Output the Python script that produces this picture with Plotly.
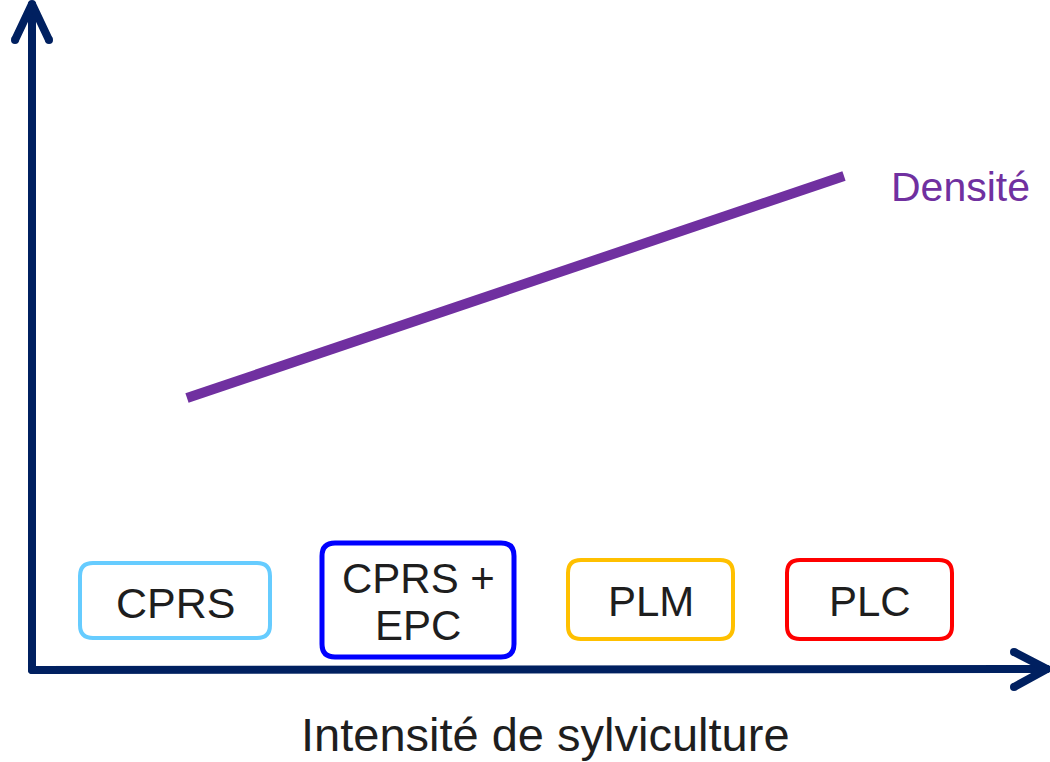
import plotly.graph_objects as go

# schematic coordinates: x = intensité (0..1050), y = valeur (0..762, vers le haut)
densite_x = [187, 844]
densite_y = [364, 586]

box_labels = ["CPRS", "CPRS +<br>EPC", "PLM", "PLC"]
box_colors = ["#66CCFF", "#0000FF", "#FFC000", "#FF0000"]
box_x0 = [80, 322, 568, 787]
box_x1 = [270, 514, 733, 952]
box_y0 = [124, 105, 123, 123]
box_y1 = [199, 219, 202, 202]
box_widths = [4, 5, 4, 4]

navy = "#002060"
purple = "#7030A0"
text_color = "#1e1e1e"
font = "Liberation Sans, Arial, sans-serif"


def rounded_rect(x0, y0, x1, y1, r=13):
    return (
        f"M {x0 + r},{y0} L {x1 - r},{y0} Q {x1},{y0} {x1},{y0 + r} "
        f"L {x1},{y1 - r} Q {x1},{y1} {x1 - r},{y1} "
        f"L {x0 + r},{y1} Q {x0},{y1} {x0},{y1 - r} "
        f"L {x0},{y0 + r} Q {x0},{y0} {x0 + r},{y0} Z"
    )


fig = go.Figure()

# axes with chevron arrow heads
axis_lines = [
    ([32, 32], [92, 757]),
    ([32, 1046], [92, 93]),
    ([15, 32, 49], [722, 758, 722]),
    ([1014, 1047, 1014], [110, 93, 75]),
]
for xs, ys in axis_lines:
    fig.add_trace(
        go.Scatter(
            x=xs,
            y=ys,
            mode="lines+markers",
            line=dict(color=navy, width=8),
            marker=dict(color=navy, size=8),
            hoverinfo="skip",
            showlegend=False,
            cliponaxis=False,
        )
    )

fig.add_trace(
    go.Scatter(
        x=densite_x,
        y=densite_y,
        mode="lines",
        line=dict(color=purple, width=10),
        name="Densité",
        showlegend=False,
    )
)

for lab, col, x0, x1, y0, y1, w in zip(
    box_labels, box_colors, box_x0, box_x1, box_y0, box_y1, box_widths
):
    fig.add_shape(
        type="path",
        path=rounded_rect(x0, y0, x1, y1),
        line=dict(color=col, width=w),
        fillcolor="white",
        layer="below",
    )
    if "<br>" in lab:
        top, bottom = lab.split("<br>")
        for t, dy in [(top, 22), (bottom, -25)]:
            fig.add_annotation(
                x=(x0 + x1) / 2, y=(y0 + y1) / 2 + dy, text=t, showarrow=False,
                font=dict(size=42, color=text_color, family=font),
            )
    else:
        fig.add_annotation(
            x=(x0 + x1) / 2, y=(y0 + y1) / 2 - 2, text=lab, showarrow=False,
            font=dict(size=43 if lab == "CPRS" else 42, color=text_color, family=font),
        )

fig.add_annotation(
    x=960, y=575, text="Densité", showarrow=False,
    font=dict(size=41, color=purple, family=font),
)
fig.add_annotation(
    x=545, y=28, text="Intensité de sylviculture", showarrow=False,
    font=dict(size=47, color=text_color, family=font),
)

fig.update_xaxes(range=[0, 1050], visible=False)
fig.update_yaxes(range=[0, 762], visible=False)
fig.update_layout(
    width=1050,
    height=762,
    margin=dict(l=0, r=0, t=0, b=0),
    plot_bgcolor="white",
    paper_bgcolor="white",
)

fig.write_html(
    "out.html",
    config={"displayModeBar": False},
    post_script="document.body.style.margin='0';document.body.style.overflow='hidden';",
)
